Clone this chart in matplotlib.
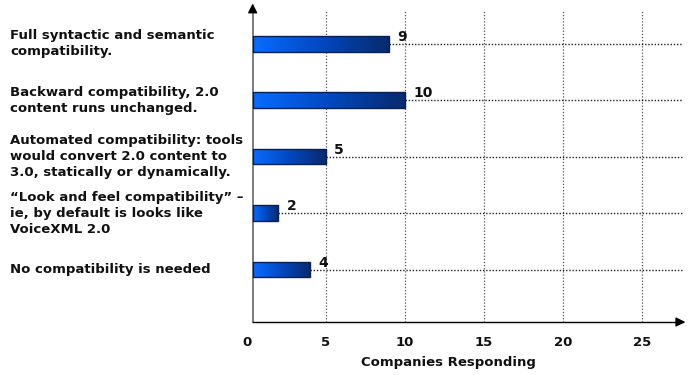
import numpy as np
import matplotlib
matplotlib.use("Agg")
import matplotlib.pyplot as plt
import matplotlib.transforms as mtransforms
from matplotlib.colors import LinearSegmentedColormap

categories = [
    "Full syntactic and semantic\ncompatibility.",
    "Backward compatibility, 2.0\ncontent runs unchanged.",
    "Automated compatibility: tools\nwould convert 2.0 content to\n3.0, statically or dynamically.",
    "\u201cLook and feel compatibility\u201d \u2013\nie, by default is looks like\nVoiceXML 2.0",
    "No compatibility is needed",
]
responses = [9, 10, 5, 2, 4]
x_ticks = [0, 5, 10, 15, 20, 25]
x_label = "Companies Responding"

plt.rcParams['font.family'] = ['DejaVu Sans']
plt.rcParams['font.weight'] = 'bold'
plt.rcParams['font.size'] = 9.5

fig = plt.figure(figsize=(6.89, 3.75), dpi=100)
ax = fig.add_axes([0.358, 0.1413, 0.6332, 0.832])

spine_x = 0.38
xmax = 27.6
ax.set_xlim(0, xmax)
ax.set_ylim(4.93, -0.596)

pos = np.arange(len(categories))

# gradient filled bars
bars = ax.barh(pos, [v - spine_x for v in responses], left=spine_x, height=0.28,
               color='none', edgecolor='#0a1f55', linewidth=1, zorder=4)
cmap = LinearSegmentedColormap.from_list('blu', ['#0a6cff', '#0048c0', '#082a6a'])
grad = np.linspace(0, 1, 256).reshape(1, -1)
for b in bars:
    x0, y0 = b.get_x(), b.get_y()
    w, h = b.get_width(), b.get_height()
    im = ax.imshow(grad, cmap=cmap, aspect='auto', zorder=3,
                   extent=[x0, x0 + w, y0 + h, y0])
    im.set_clip_path(b)

# dotted guide lines from bar end to the right edge
ax.hlines(pos, responses, xmax, colors='#222222', linestyles=(0, (1, 1.3)),
          linewidth=1, zorder=2)
ax.vlines(x_ticks[1:], 4.93, -0.596, colors='#555555', linestyles=(0, (1, 1.5)),
          linewidth=0.9, zorder=1)

for p, v in zip(pos, responses):
    ax.annotate(str(v), xy=(v, p), xytext=(6, 5), textcoords='offset points',
                ha='left', va='center', fontsize=10, color='#111111', zorder=5)

# category labels at the left of the figure
trans = mtransforms.blended_transform_factory(fig.transFigure, ax.transData)
for p, c in zip(pos, categories):
    ax.text(10 / 689, p, c, transform=trans, ha='left', va='center',
            linespacing=1.3, color='#111111', clip_on=False)

ax.set_yticks([])
ax.set_xticks(x_ticks)
ax.tick_params(axis='x', length=0, pad=10, labelsize=9.5, colors='#111111')
ax.set_xlabel(x_label, fontsize=9.5, fontweight='bold', color='#111111')
ax.xaxis.set_label_coords(0.4625, -0.11)

for s in ['top', 'right']:
    ax.spines[s].set_visible(False)
ax.spines['left'].set_position(('data', spine_x))
ax.spines['left'].set_color('#666666')
ax.spines['left'].set_linewidth(1.2)
ax.spines['bottom'].set_bounds(spine_x, xmax)
ax.spines['bottom'].set_linewidth(1)

# axis arrows
ax.annotate('', xy=(spine_x, 1.03), xytext=(spine_x, 0.99),
            xycoords=('data', 'axes fraction'), textcoords=('data', 'axes fraction'),
            arrowprops=dict(arrowstyle='-|>', color='black', lw=1, mutation_scale=14))
ax.annotate('', xy=(1.012, 0), xytext=(0.99, 0),
            xycoords='axes fraction', textcoords='axes fraction',
            arrowprops=dict(arrowstyle='-|>', color='black', lw=1, mutation_scale=14))

fig.savefig('out.png', dpi=100)
